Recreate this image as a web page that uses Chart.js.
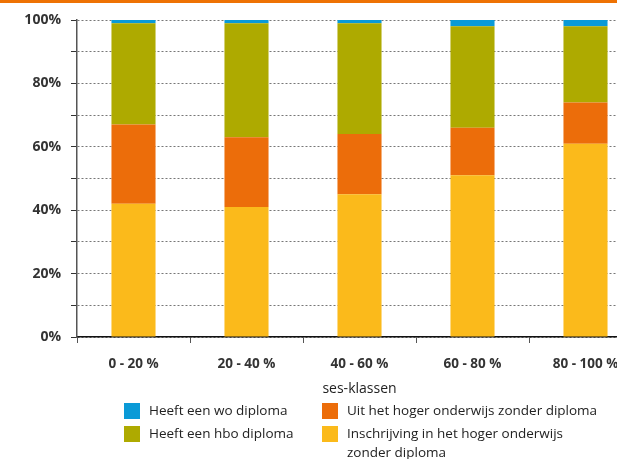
<!DOCTYPE html>
<html>
<head>
<meta charset="utf-8">
<script src="https://cdn.jsdelivr.net/npm/chart.js@4/dist/chart.umd.min.js"></script>
<style>
  body { margin: 0; overflow: hidden; background: #fff; font-family: "Open Sans", sans-serif; }
  #wrap { position: relative; width: 617px; height: 459px; overflow: hidden; }
  #topbar { position: absolute; left: 0; top: 0; width: 617px; height: 3px; background: #ee7203; }
  #box { position: absolute; left: 0; top: 0; width: 650px; height: 459px; }
  .leg { position: absolute; font-size: 13.5px; color: #222; line-height: 19px; white-space: nowrap; }
  .leg span { position: absolute; left: -25px; top: 2px; width: 16px; height: 16px; }
</style>
</head>
<body>
<div id="wrap">
  <div id="box"><canvas id="chart"></canvas></div>
  <div id="topbar"></div>
  <div id="legend"></div>
</div>
<script>
// ses-klassen en aandelen (%) per uitkomst
const categories = ["0 - 20 %", "20 - 40 %", "40 - 60 %", "60 - 80 %", "80 - 100 %"];
const inschrijving = [42, 41, 45, 51, 61];
const uitZonder = [25, 22, 19, 15, 13];
const hboDiploma = [32, 36, 35, 32, 24];
const woDiploma = [1, 1, 1, 2, 2];
const yTickLabels = [0, 20, 40, 60, 80, 100];

const datasets = [
  { label: "Inschrijving in het hoger onderwijs zonder diploma", data: inschrijving, backgroundColor: "#fbba1b" },
  { label: "Uit het hoger onderwijs zonder diploma", data: uitZonder, backgroundColor: "#ec6d0a" },
  { label: "Heeft een hbo diploma", data: hboDiploma, backgroundColor: "#aeaa00" },
  { label: "Heeft een wo diploma", data: woDiploma, backgroundColor: "#0a9ad7" },
];

// legend, two columns like the original
const legendItems = [
  { text: "Heeft een wo diploma", color: "#0a9ad7", x: 149, y: 401 },
  { text: "Uit het hoger onderwijs zonder diploma", color: "#ec6d0a", x: 347, y: 401 },
  { text: "Heeft een hbo diploma", color: "#aeaa00", x: 149, y: 424 },
  { text: "Inschrijving in het hoger onderwijs<br>zonder diploma", color: "#fbba1b", x: 347, y: 424 },
];
const legend = document.getElementById("legend");
legendItems.forEach((it) => {
  const d = document.createElement("div");
  d.className = "leg";
  d.style.left = it.x + "px";
  d.style.top = it.y + "px";
  d.innerHTML = '<span style="background:' + it.color + '"></span>' + it.text;
  legend.appendChild(d);
});

const ctx = document.getElementById("chart").getContext("2d");
new Chart(ctx, {
  type: "bar",
  data: { labels: categories, datasets: datasets },
  options: {
    responsive: true,
    maintainAspectRatio: false,
    animation: false,
    layout: { padding: { top: 20, right: 8, left: 0, bottom: 0 } },
    datasets: { bar: { categoryPercentage: 1, barPercentage: 0.39 } },
    plugins: { legend: { display: false }, tooltip: { enabled: false } },
    scales: {
      x: {
        stacked: true,
        afterFit: (s) => { s.height = 122; },
        border: { color: "#111", width: 1.5 },
        grid: { offset: true, drawOnChartArea: false, tickLength: 6, color: "#555" },
        ticks: { padding: 13, color: "#333", font: { family: "Open Sans", size: 13.5, weight: "bold" } },
        title: {
          display: true,
          text: "ses-klassen",
          color: "#222",
          font: { family: "Open Sans", size: 14 },
          padding: { top: 4, bottom: 62 },
        },
      },
      y: {
        stacked: true,
        min: 0,
        max: 100,
        afterFit: (s) => { s.width = 77; },
        border: { color: "#555", width: 1.5, dash: [2, 2] },
        grid: {
          color: "#777",
          tickColor: "#333",
          tickBorderDash: [1, 0],
          tickLength: 6,
        },
        ticks: {
          stepSize: 10,
          padding: 10,
          color: "#333",
          font: { family: "Open Sans", size: 14, weight: "bold" },
          callback: (v) => (yTickLabels.includes(v) ? v + "%" : ""),
        },
      },
    },
  },
});
</script>
</body>
</html>
